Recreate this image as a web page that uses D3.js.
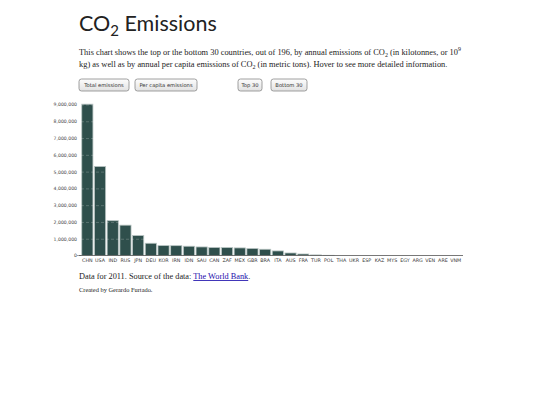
<!DOCTYPE html>
<html><head><meta charset="utf-8">
<script src="https://cdnjs.cloudflare.com/ajax/libs/d3/7.8.5/d3.min.js"></script>
<style>
html,body{margin:0;padding:0;background:#fff;}
svg{display:block;}
</style></head>
<body>
<svg id="c" width="540" height="405"></svg>
<script>
const countries = ["CHN","USA","IND","RUS","JPN","DEU","KOR","IRN","IDN","SAU","CAN","ZAF","MEX","GBR","BRA","ITA","AUS","FRA","TUR","POL","THA","UKR","ESP","KAZ","MYS","EGY","ARG","VEN","ARE","VNM"];
const emissions = [9019518,5305570,2074345,1808073,1187657,729458,589426,586000,552000,510000,476000,470000,452000,418000,372000,272000,150000,90000,34000,12000,0,0,0,0,0,0,0,0,0,0];
const yTicks = [0,1000000,2000000,3000000,4000000,5000000,6000000,7000000,8000000,9000000];
const buttonLabels = ["Total emissions","Per capita emissions","Top 30","Bottom 30"];

const svg = d3.select("#c");
const serif = "'Liberation Serif', 'Times New Roman', serif";
const sans = "Lato, 'Open Sans', 'DejaVu Sans', sans-serif";
const uiSans = "'DejaVu Sans', sans-serif";

// Title
const title = svg.append("text").attr("x",79).attr("y",31)
  .attr("font-family",sans).attr("font-size",21.5).attr("font-weight",400).attr("fill","#222");
title.append("tspan").text("CO");
title.append("tspan").attr("font-size",15).attr("dy",5).text("2");
title.append("tspan").attr("dy",-5).text(" Emissions");

// Description
const fs = 8.4;
const p1 = svg.append("text").attr("x",79).attr("y",55).attr("font-family",serif).attr("font-size",fs).attr("fill","#222");
p1.append("tspan").text("This chart shows the top or the bottom 30 countries, out of 196, by annual emissions of CO");
p1.append("tspan").attr("font-size",6).attr("dy",2).text("2");
p1.append("tspan").attr("dy",-2).text(" (in kilotonnes, or 10");
p1.append("tspan").attr("font-size",6).attr("dy",-4).text("9");
const p2 = svg.append("text").attr("x",79).attr("y",67).attr("font-family",serif).attr("font-size",fs).attr("fill","#222");
p2.append("tspan").text("kg) as well as by annual per capita emissions of CO");
p2.append("tspan").attr("font-size",6).attr("dy",2).text("2");
p2.append("tspan").attr("dy",-2).text(" (in metric tons). Hover to see more detailed information.");

// Buttons
const btnX = [79,135,238,271];
const btnW = [50,62,24,36];
const defs = svg.append("defs");
const grad = defs.append("linearGradient").attr("id","bg").attr("x1",0).attr("x2",0).attr("y1",0).attr("y2",1);
grad.append("stop").attr("offset","0%").attr("stop-color","#fdfdfd");
grad.append("stop").attr("offset","100%").attr("stop-color","#e2e2e2");
const btns = svg.append("g").selectAll("g").data(buttonLabels).join("g")
  .attr("transform",(d,i)=>`translate(${btnX[i]},79)`);
btns.append("rect").attr("width",(d,i)=>btnW[i]).attr("height",12).attr("rx",2.5)
  .attr("fill","url(#bg)").attr("stroke","#888").attr("stroke-width",0.8);
btns.append("text").attr("x",(d,i)=>btnW[i]/2).attr("y",8.2).attr("text-anchor","middle")
  .attr("font-family",uiSans).attr("font-size",5.2).attr("fill","#333").text(d=>d);

// Chart
const mLeft = 81, mRight = 462, mTop = 104.5, mBottom = 255.5;
const x = d3.scaleBand().domain(countries).range([mLeft,mRight]).paddingInner(0.12).paddingOuter(0.06);
const y = d3.scaleLinear().domain([0,9000000]).range([mBottom,mTop]);

const g = svg.append("g");
g.selectAll("rect.bar").data(countries).join("rect").attr("class","bar")
  .attr("x",d=>x(d)).attr("width",x.bandwidth())
  .attr("y",(d,i)=>y(emissions[i])).attr("height",(d,i)=>mBottom-y(emissions[i]))
  .attr("fill","#2f4f4c").attr("stroke","#b8c4c2").attr("stroke-width",0.8);

// gridlines over bars (white, visible only on bars)
const grid = g.append("g").attr("transform",`translate(${mLeft},0)`)
  .call(d3.axisLeft(y).tickValues(yTicks.slice(1)).tickSize(-(mRight-mLeft)).tickFormat(""));
grid.select(".domain").remove();
grid.selectAll("line").attr("stroke","#ffffff").attr("stroke-opacity",0.3).attr("stroke-dasharray","3,2").attr("stroke-width",0.7);

// y axis labels
const ya = g.append("g").attr("transform",`translate(${mLeft-1},0)`)
  .call(d3.axisLeft(y).tickValues(yTicks).tickSize(0).tickPadding(3).tickFormat(d3.format(",")));
ya.select(".domain").remove();
ya.selectAll("text").attr("font-family",uiSans).attr("font-size",4.6).attr("fill","#444");
g.append("line").attr("x1",mLeft-4).attr("x2",mLeft).attr("y1",mBottom).attr("y2",mBottom).attr("stroke","#666").attr("stroke-width",0.6);

// x axis
const xa = g.append("g").attr("transform",`translate(0,${mBottom})`)
  .call(d3.axisBottom(x).tickSize(0).tickPadding(3.5));
xa.select(".domain").attr("stroke","#555").attr("stroke-width",0.8).attr("d",`M${mLeft-2},0H${mRight+1}`);
xa.selectAll("text").attr("font-family",uiSans).attr("font-size",4.8).attr("fill","#333");

// Footer
const f1 = svg.append("text").attr("x",79).attr("y",279).attr("font-family",serif).attr("font-size",8.3).attr("fill","#222");
f1.append("tspan").text("Data for 2011. Source of the data: ");
f1.append("tspan").attr("fill","#1a0dab").attr("text-decoration","underline").text("The World Bank");
f1.append("tspan").text(".");
svg.append("text").attr("x",79).attr("y",292).attr("font-family",serif).attr("font-size",6.4).attr("fill","#222")
  .text("Created by Gerardo Furtado.");
</script>
</body></html>
